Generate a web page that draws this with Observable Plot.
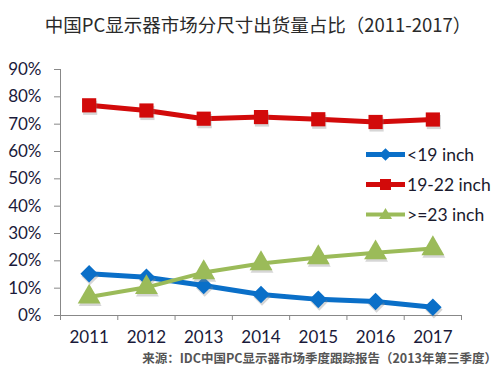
<!DOCTYPE html>
<html><head><meta charset="utf-8">
<script src="https://cdn.jsdelivr.net/npm/d3@7"></script>
<script src="https://cdn.jsdelivr.net/npm/@observablehq/plot@0.6"></script>
<style>
body{margin:0;background:#fff;}
#wrap{position:relative;width:500px;height:376px;overflow:hidden;background:#fff;}
#title{position:absolute;left:0;width:516px;top:13px;text-align:center;font:18.5px/22px "Noto Sans CJK SC",sans-serif;color:#2a2a2a;white-space:nowrap;}
#source{position:absolute;right:3px;top:351px;font:bold 12.5px/13px "Noto Sans CJK SC",sans-serif;color:#555;white-space:nowrap;}
#chart{position:absolute;left:0;top:0;}
#legend{position:absolute;left:366px;top:139px;font:17.5px Lato,sans-serif;color:#1a1a2e;}
.li{display:flex;align-items:center;height:30px;}
.li svg{margin-right:1px;}
</style></head>
<body><div id="wrap">
<div id="chart"></div>
<div id="title">中国PC显示器市场分尺寸出货量占比（2011-2017）</div>
<div id="legend"></div>
<div id="source">来源：IDC中国PC显示器市场季度跟踪报告（2013年第三季度）</div>
</div>
<script>
const years = [2011, 2012, 2013, 2014, 2015, 2016, 2017];
const seriesNames = ["<19 inch", "19-22 inch", ">=23 inch"];
const small = [15.3, 14.0, 11.0, 7.7, 5.9, 5.1, 3.0];
const mid = [76.9, 75.0, 72.0, 72.6, 71.8, 70.8, 71.7];
const large = [6.8, 10.3, 15.7, 19.0, 21.2, 23.0, 24.5];
const yTicks = [0, 10, 20, 30, 40, 50, 60, 70, 80, 90];

const colors = ["#0a6fc8", "#d20a0a", "#9bbb59"];
const symbols = ["square", "square", "triangle"];
const rotates = [45, 0, 0];
const sizes = [7, 8, 8.5];
const widths = [5, 5, 4];
const valuesList = [small, mid, large];

const rows = [];
seriesNames.forEach((s, i) => years.forEach((yr, j) => rows.push({series: s, idx: i, year: yr, value: valuesList[i][j]})));
const boundaries = years.map(y => y - 0.5).concat([years[years.length - 1] + 0.5]);

const marks = [];
seriesNames.forEach((s, i) => {
  const d = rows.filter(r => r.idx === i);
  marks.push(Plot.line(d, {x: "year", y: "value", stroke: colors[i], strokeWidth: widths[i], curve: "linear"}));
});
seriesNames.forEach((s, i) => {
  const d = rows.filter(r => r.idx === i);
  marks.push(Plot.dot(d, {x: "year", y: "value", symbol: symbols[i], r: sizes[i], rotate: rotates[i], fill: "#8a8a8a", fillOpacity: 0.35, dx: 1, dy: 2.5}));
  marks.push(Plot.dot(d, {x: "year", y: "value", symbol: symbols[i], r: sizes[i], rotate: rotates[i], fill: colors[i]}));
});

const chart = Plot.plot({
  width: 500, height: 376,
  marginTop: 69, marginBottom: 61, marginLeft: 60, marginRight: 39,
  style: {background: "transparent", fontFamily: "Lato, sans-serif"},
  x: {type: "linear", domain: [years[0] - 0.5, years[years.length - 1] + 0.5]},
  y: {domain: [0, 90]},
  marks: [
    Plot.axisY({ticks: yTicks, tickFormat: d => d + "%", tickSize: 6, tickPadding: 13, stroke: "#888", fill: "#1a1a3a", fontSize: 17, label: null}),
    Plot.axisX({ticks: boundaries, tickFormat: () => "", tickSize: 5, stroke: "#888", label: null}),
    Plot.axisX({ticks: years, tickFormat: d => String(d), tickSize: 0, tickPadding: 15, fill: "#1a1a3a", fontSize: 17, label: null}),
    Plot.ruleY([yTicks[0]], {stroke: "#888", strokeWidth: 1}),
    Plot.ruleX([boundaries[0]], {stroke: "#888", strokeWidth: 1}),
    ...marks
  ]
});
document.getElementById("chart").appendChild(chart);

// legend
const lg = document.getElementById("legend");
seriesNames.forEach((s, i) => {
  const div = document.createElement("div");
  div.className = "li";
  const sym = i === 0 ? '<rect x="15" y="4" width="9" height="9" transform="rotate(45 19.5 8.5)" fill="' + colors[i] + '"/>'
    : i === 1 ? '<rect x="14" y="3" width="11" height="11" fill="' + colors[i] + '"/>'
    : '<polygon points="19.5,2 26,13 13,13" fill="' + colors[i] + '"/>';
  div.innerHTML = '<svg width="40" height="17"><line x1="0" y1="8.5" x2="39" y2="8.5" stroke="' + colors[i] + '" stroke-width="' + widths[i] + '"/>' + sym + '</svg><span>' + s + '</span>';
  lg.appendChild(div);
});
</script>
</body></html>
